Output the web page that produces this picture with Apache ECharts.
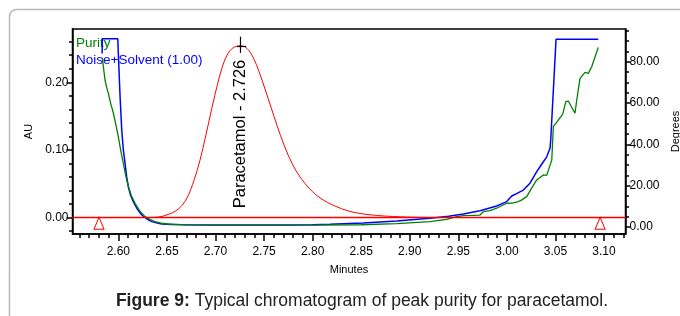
<!DOCTYPE html>
<html><head><meta charset="utf-8">
<script src="https://cdn.jsdelivr.net/npm/echarts@6/dist/echarts.min.js"></script>
<style>html,body{margin:0;padding:0;background:#fff}#c{width:680px;height:316px}</style>
</head><body><div id="c"></div>
<script>
const FONT = '"Liberation Sans", Arial, Helvetica, sans-serif';

// axis ranges
const xRange = [2.5528, 3.1221];
const auRange = [-0.0244, 0.2788];
const degRange = [-3.39, 95.9];

// tick values
const xMajorTicks = [2.60, 2.65, 2.70, 2.75, 2.80, 2.85, 2.90, 2.95, 3.00, 3.05, 3.10];
const xMinorTicks = [2.56, 2.57, 2.58, 2.59, 2.61, 2.62, 2.63, 2.64, 2.66, 2.67, 2.68, 2.69, 2.71, 2.72, 2.73, 2.74,
  2.76, 2.77, 2.78, 2.79, 2.81, 2.82, 2.83, 2.84, 2.86, 2.87, 2.88, 2.89, 2.91, 2.92, 2.93, 2.94,
  2.96, 2.97, 2.98, 2.99, 3.01, 3.02, 3.03, 3.04, 3.06, 3.07, 3.08, 3.09, 3.11, 3.12];
const auMajorTicks = [0.00, 0.10, 0.20];
const auMinorTicks = [-0.02, 0.02, 0.04, 0.06, 0.08, 0.12, 0.14, 0.16, 0.18, 0.22, 0.24, 0.26];
const degMajorTicks = [0, 20, 40, 60, 80];
const degMinorTicks = [5, 10, 15, 25, 30, 35, 45, 50, 55, 65, 70, 75, 85, 90, 95];

// chromatogram (AU)
const redT = [2.5528, 2.6200, 2.6326, 2.6429, 2.6501, 2.6584, 2.6656, 2.6718, 2.6779, 2.6841, 2.6903, 2.6965, 2.7026, 2.7088,
  2.7150, 2.7212, 2.7263, 2.7325, 2.7387, 2.7448, 2.7510, 2.7572, 2.7634, 2.7706, 2.7788, 2.7870, 2.7973,
  2.8076, 2.8230, 2.8385, 2.8591, 2.8900, 2.9209, 3.1221];
const redV = [0.000, 0.000, 0.000, 0.001, 0.004, 0.009, 0.018, 0.032, 0.055, 0.085, 0.123, 0.163, 0.200, 0.230,
  0.247, 0.253, 0.254, 0.250, 0.237, 0.216, 0.190, 0.163, 0.136, 0.107, 0.080, 0.060, 0.042,
  0.029, 0.017, 0.009, 0.004, 0.001, 0.000, 0.000];

// purity angle (Degrees)
const greenT = [2.5835, 2.5850, 2.5863, 2.5880, 2.5897, 2.5920, 2.5949, 2.5975, 2.6000, 2.6025, 2.6051, 2.6077, 2.6103,
  2.6135, 2.6172, 2.6220, 2.6275, 2.6330, 2.6378, 2.6440, 2.6515, 2.6700, 2.7000, 2.7500, 2.8000, 2.8500,
  2.8866, 2.9209, 2.9381, 2.9484, 2.9552, 2.9650, 2.9723, 2.9757, 2.9826, 2.9895, 2.9998, 3.0050, 3.0101,
  3.0150, 3.0204, 3.0250, 3.0307, 3.0375, 3.0410, 3.0427, 3.0462, 3.0478, 3.0529, 3.0575, 3.0606, 3.0632,
  3.0667, 3.0701, 3.0719, 3.0753, 3.0804, 3.0838, 3.0873, 3.0941];
const greenV = [82, 76, 71.2, 67.5, 64.7, 60, 55.1, 49.5, 43.7, 37, 30.8, 24.8, 19.5,
  15, 11.5, 7.8, 5.0, 3.6, 2.6, 1.9, 1.45, 1.0, 0.8, 0.8, 0.9, 1.1,
  1.6, 2.6, 3.7, 5.0, 5.5, 5.6, 5.8, 7.4, 7.9, 9.1, 11.5, 11.6, 12.0,
  13.0, 14.7, 18.5, 22.8, 25.2, 25.0, 25.2, 32.4, 48.6, 51.8, 54.7, 60.7, 61.0,
  58.0, 55.1, 61.5, 72.0, 74.9, 74.4, 77.6, 87.0];

// noise + solvent threshold (Degrees)
const blueT = [2.5833, 2.5835, 2.5994, 2.6005, 2.6018, 2.6035, 2.6050, 2.6069, 2.6085, 2.6103, 2.6125, 2.6154, 2.6195,
  2.6241, 2.6290, 2.6344, 2.6400, 2.6447, 2.6550, 2.6687, 2.7000, 2.7500, 2.8000, 2.8179, 2.8522, 2.8866,
  2.9209, 2.9400, 2.9552, 2.9723, 2.9895, 2.9998, 3.0050, 3.0100, 3.0169, 3.0238, 3.0307, 3.0360, 3.0410,
  3.0444, 3.0451, 3.0506, 3.0941];
const blueV = [84, 91.2, 91.2, 78, 63, 47, 38, 30.8, 24.5, 19.5, 15.5, 12.3, 8.7,
  5.8, 4.0, 2.6, 1.9, 1.45, 1.2, 1.1, 1.0, 1.0, 1.15, 1.3, 1.9, 2.9,
  4.2, 5.2, 6.3, 7.9, 10.2, 12.3, 15.0, 16.2, 17.9, 21.2, 26.8, 30.5, 34.0,
  38.1, 42.0, 90.9, 90.9];

// annotations
const peakName = 'Paracetamol - 2.726';
const peakRT = 2.726;
const peakLabelAU = 0.1235;
const peakTickAU = [0.2675, 0.2433];
const peakCrossAU = 0.2537;
const peakCrossT = [2.7222, 2.7315];
const integMarkT = [2.5801, 3.096];
const integMarkAU = -0.0086;
const baselineAU = 0;

const legendNames = ['Purity', 'Noise+Solvent (1.00)'];
const caption = ['Figure 9:', ' Typical chromatogram of peak purity for paracetamol.'];

const zip = (a, b) => a.map((v, i) => [v, b[i]]);
const fmt2 = v => Number(v).toFixed(2);

const chart = echarts.init(document.getElementById('c'), null, { renderer: 'canvas' });

const baseX = { type: 'value', min: xRange[0], max: xRange[1], position: 'bottom', splitLine: { show: false } };
const baseY = { type: 'value', splitLine: { show: false } };

chart.setOption({
  animation: false,
  backgroundColor: '#fff',
  grid: { left: 72.5, right: 54.5, top: 29, bottom: 82, show: true, borderColor: '#000', borderWidth: 1.5,
          containLabel: false, outerBoundsMode: 'none' },
  xAxis: [
    Object.assign({}, baseX, {
      name: 'Minutes', nameLocation: 'middle', nameGap: 30,
      nameTextStyle: { fontFamily: FONT, fontSize: 11, color: '#000' },
      axisLine: { show: true, onZero: false, lineStyle: { color: '#000', width: 1.5 } },
      axisTick: { show: true, length: 7, customValues: xMajorTicks, lineStyle: { color: '#000', width: 1.5 } },
      axisLabel: { show: true, customValues: xMajorTicks, formatter: fmt2, margin: 12, fontFamily: FONT, fontSize: 12, color: '#000' }
    }),
    Object.assign({}, baseX, {
      axisLine: { show: false, onZero: false },
      axisTick: { show: true, length: 4, customValues: xMinorTicks, lineStyle: { color: '#000', width: 1.5 } },
      axisLabel: { show: false }
    })
  ],
  yAxis: [
    Object.assign({}, baseY, {
      min: auRange[0], max: auRange[1], position: 'left',
      name: 'AU', nameLocation: 'middle', nameGap: 32, nameRotate: 90,
      nameTextStyle: { fontFamily: FONT, fontSize: 11, color: '#000' },
      axisLine: { show: true, onZero: false, lineStyle: { color: '#000', width: 1.5 } },
      axisTick: { show: true, length: 6, customValues: auMajorTicks, lineStyle: { color: '#000', width: 1.5 } },
      axisLabel: { show: true, customValues: auMajorTicks, formatter: fmt2, margin: 4, fontFamily: FONT, fontSize: 12, color: '#000' }
    }),
    Object.assign({}, baseY, {
      min: auRange[0], max: auRange[1], position: 'left',
      axisLine: { show: false, onZero: false },
      axisTick: { show: true, length: 3.5, customValues: auMinorTicks, lineStyle: { color: '#000', width: 1.5 } },
      axisLabel: { show: false }
    }),
    Object.assign({}, baseY, {
      min: degRange[0], max: degRange[1], position: 'right',
      name: 'Degrees', nameLocation: 'middle', nameGap: 33, nameRotate: 90,
      nameTextStyle: { fontFamily: FONT, fontSize: 11, color: '#000' },
      axisLine: { show: true, onZero: false, lineStyle: { color: '#000', width: 1.5 } },
      axisTick: { show: true, length: 5, customValues: degMajorTicks, lineStyle: { color: '#000', width: 1.5 } },
      axisLabel: { show: true, customValues: degMajorTicks, formatter: fmt2, margin: 4, fontFamily: FONT, fontSize: 12, color: '#000' }
    }),
    Object.assign({}, baseY, {
      min: degRange[0], max: degRange[1], position: 'right',
      axisLine: { show: false, onZero: false },
      axisTick: { show: true, length: 3.5, customValues: degMinorTicks, lineStyle: { color: '#000', width: 1.5 } },
      axisLabel: { show: false }
    })
  ],
  series: [
    {
      name: legendNames[1], type: 'line', xAxisIndex: 0, yAxisIndex: 2,
      data: zip(blueT, blueV), showSymbol: false, symbol: 'none',
      lineStyle: { color: '#0000ff', width: 1.5 }, z: 3
    },
    {
      name: legendNames[0], type: 'line', xAxisIndex: 0, yAxisIndex: 2,
      data: zip(greenT, greenV), showSymbol: false, symbol: 'none',
      lineStyle: { color: '#008000', width: 1.3 }, z: 3
    },
    {
      name: 'Chromatogram', type: 'line', xAxisIndex: 0, yAxisIndex: 0,
      data: zip(redT, redV), showSymbol: false, symbol: 'none', smooth: 0.35,
      lineStyle: { color: '#ff0000', width: 1 }, z: 4,
      markPoint: {
        silent: true, animation: false,
        data: [
          { coord: [integMarkT[0], integMarkAU], symbol: 'triangle', symbolSize: [10, 12],
            itemStyle: { color: '#fff', borderColor: '#ff0000', borderWidth: 1 }, label: { show: false } },
          { coord: [integMarkT[1], integMarkAU], symbol: 'triangle', symbolSize: [10, 12],
            itemStyle: { color: '#fff', borderColor: '#ff0000', borderWidth: 1 }, label: { show: false } },
          { coord: [peakRT, peakLabelAU], symbol: 'circle', symbolSize: 0,
            itemStyle: { color: 'transparent' },
            label: { show: true, position: 'inside', rotate: 90, formatter: peakName,
              fontFamily: FONT, fontSize: 16.5, color: '#000' } }
        ]
      }
    },
    {
      name: 'Baseline', type: 'line', xAxisIndex: 0, yAxisIndex: 0,
      data: [[xRange[0], baselineAU], [xRange[1], baselineAU]], showSymbol: false, symbol: 'none',
      lineStyle: { color: '#ff0000', width: 1.5 }, z: 10,
      markLine: {
        silent: true, symbol: ['none', 'none'], animation: false,
        label: { show: false },
        lineStyle: { color: '#000', width: 1.2, type: 'solid' },
        data: [
          [{ coord: [peakRT, peakTickAU[0]] }, { coord: [peakRT, peakTickAU[1]] }],
          [{ coord: [peakCrossT[0], peakCrossAU] }, { coord: [peakCrossT[1], peakCrossAU] }]
        ]
      }
    }
  ],
  graphic: [
    { type: 'rect', silent: true, shape: { x: 9.5, y: 9.5, width: 720, height: 400, r: 7 },
      style: { fill: 'none', stroke: '#b8b8b8', lineWidth: 1.5 } },
    { type: 'text', silent: true, left: 76, top: 36, style: { text: legendNames[0], fill: '#008000', font: '13.5px ' + FONT } },
    { type: 'text', silent: true, left: 76, top: 53, style: { text: legendNames[1], fill: '#0000ff', font: '13.5px ' + FONT } },
    { type: 'text', silent: true, x: 362, y: 301,
      style: { text: '{b|' + caption[0] + '}' + caption[1], align: 'center', verticalAlign: 'middle',
        fill: '#222', fontFamily: FONT, fontSize: 17.5,
        rich: { b: { fontWeight: 'bold', fontFamily: FONT, fontSize: 17.5, fill: '#222' } } } }
  ]
});
</script>
</body></html>
